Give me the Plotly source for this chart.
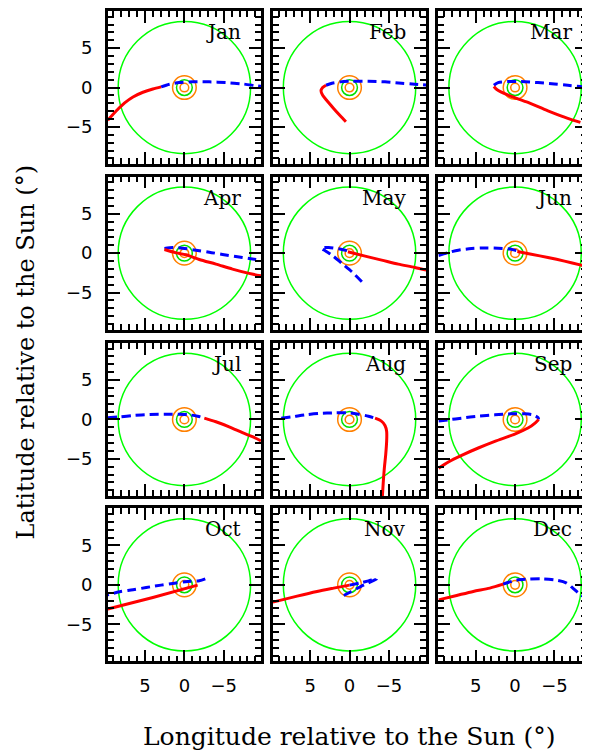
import plotly.graph_objects as go

# page has an 8px body margin; figure is sized so that it fills the 590x751 window
OFF = 8
FW, FH = 590 - OFF, 751 - OFF

months = ["Jan", "Feb", "Mar", "Apr", "May", "Jun",
          "Jul", "Aug", "Sep", "Oct", "Nov", "Dec"]

# --- data (degrees, longitude / latitude relative to the Sun) ---
jan_red_lon = [9.72, 8.63, 7.58, 6.52, 5.26, 4.0, 2.95]
jan_red_lat = [-4.15, -2.95, -1.95, -1.2, -0.6, -0.18, 0.08]
jan_blue_lon = [2.95, 1.89, 0.63, -1.05, -3.16, -5.26, -7.37, -9.26, -9.72]
jan_blue_lat = [0.08, 0.42, 0.63, 0.72, 0.72, 0.63, 0.46, 0.21, 0.17]

feb_red_lon = [0.46, 1.18, 2.02, 2.86, 3.41, 3.62, 3.41, 2.99]
feb_red_lat = [-4.34, -3.58, -2.65, -1.68, -0.97, -0.42, 0.0, 0.29]
feb_blue_lon = [2.99, 2.23, 1.18, -0.29, -2.4, -4.5, -6.6, -8.29, -9.72]
feb_blue_lat = [0.29, 0.55, 0.72, 0.8, 0.8, 0.72, 0.55, 0.42, 0.32]

mar_red_lon = [2.69, 2.36, 0.88, -1.64, -4.17, -6.69, -8.29]
mar_red_lat = [0.13, -0.21, -0.97, -1.89, -2.95, -3.91, -4.42]
mar_blue_lon = [2.69, 2.15, 0.88, -0.8, -2.9, -5.0, -6.69, -8.29, -9.3]
mar_blue_lat = [0.29, 0.63, 0.76, 0.76, 0.63, 0.46, 0.29, 0.13, 0.05]

apr_red_lon = [2.53, 1.05, -0.21, -1.89, -4.0, -6.1, -8.21, -9.72]
apr_red_lat = [0.46, 0.04, -0.21, -0.8, -1.39, -2.02, -2.57, -2.88]
apr_blue_lon = [2.53, 1.47, 0.21, -1.47, -3.16, -4.84, -6.52, -8.21, -9.72]
apr_blue_lat = [0.6, 0.72, 0.63, 0.38, 0.13, -0.17, -0.42, -0.67, -0.92]

may_red_lon = [0.21, -1.98, -4.08, -6.19, -8.29, -9.72]
may_red_lat = [0.17, -0.38, -0.88, -1.39, -1.81, -2.15]
may_blue_lon = [-1.56, -0.29, 0.97, 2.23, 3.07, 3.58, 2.65, 1.39, 0.21]
may_blue_lat = [-3.62, -2.36, -1.3, -0.25, 0.29, 0.67, 0.72, 0.55, 0.29]

jun_red_lon = [-0.29, -2.06, -4.17, -6.27, -8.38, -9.4]
jun_red_lat = [0.21, -0.13, -0.55, -1.01, -1.52, -1.77]
jun_blue_lon = [9.72, 8.46, 7.2, 5.51, 3.83, 2.15, 0.88, -0.29]
jun_blue_lat = [-0.3, 0.08, 0.38, 0.59, 0.67, 0.63, 0.55, 0.29]

jul_red_lon = [-2.53, -4.0, -5.68, -7.37, -8.63, -9.72]
jul_red_lat = [0.17, -0.29, -0.93, -1.68, -2.19, -2.71]
jul_blue_lon = [9.72, 8.21, 6.52, 4.42, 2.31, 0.63, -0.63, -1.68, -2.53]
jul_blue_lat = [0.21, 0.34, 0.5, 0.63, 0.67, 0.67, 0.59, 0.42, 0.17]

aug_red_lon = [-3.24, -4.0, -4.5, -4.71, -4.71, -4.59, -4.42, -4.29, -4.17]
aug_red_lat = [0.17, -0.17, -0.76, -1.52, -2.78, -4.46, -6.14, -7.83, -9.72]
aug_blue_lon = [8.67, 7.28, 5.6, 3.91, 1.81, 0.13, -1.14, -2.4, -3.24]
aug_blue_lat = [0.17, 0.34, 0.59, 0.76, 0.84, 0.84, 0.67, 0.42, 0.17]

sep_red_lon = [-2.99, -2.57, -1.64, 0.04, 2.57, 4.67, 6.78, 8.46, 9.72]
sep_red_lat = [0.0, -0.42, -1.09, -1.85, -2.78, -3.62, -4.55, -5.39, -6.2]
sep_blue_lon = [9.72, 8.46, 6.78, 4.67, 2.57, 0.46, -1.22, -2.27, -2.9, -2.99]
sep_blue_lat = [-0.2, -0.04, 0.17, 0.42, 0.59, 0.72, 0.72, 0.59, 0.25, 0.0]

oct_red_lon = [9.72, 4.0, -1.68]
oct_red_lat = [-3.08, -1.6, -0.04]
oct_blue_lon = [-2.65, -1.89, -0.42, 1.26, 2.95, 4.84, 6.52, 8.21, 9.72]
oct_blue_lat = [0.76, 0.51, 0.42, 0.21, -0.04, -0.34, -0.63, -0.88, -1.27]

nov_red_lon = [9.72, 6.65, 4.12, 2.02, 0.0]
nov_red_lat = [-2.2, -1.43, -0.84, -0.42, -0.04]
nov_blue_lon = [0.0, -1.35, -2.4, -3.45, -2.4, -1.35, -0.17, 0.88]
nov_blue_lat = [-0.04, 0.25, 0.5, 0.76, 0.25, -0.25, -0.88, -1.43]

dec_red_lon = [9.72, 7.41, 5.3, 3.2, 1.52]
dec_red_lat = [-1.91, -1.35, -0.84, -0.42, 0.08]
dec_blue_lon = [1.52, -0.17, -1.85, -3.54, -5.22, -6.48, -7.32, -8.16, -9.22]
dec_blue_lat = [0.08, 0.59, 0.72, 0.76, 0.59, 0.25, -0.42, -1.14, -1.77]

red_lon = [jan_red_lon, feb_red_lon, mar_red_lon, apr_red_lon, may_red_lon, jun_red_lon,
           jul_red_lon, aug_red_lon, sep_red_lon, oct_red_lon, nov_red_lon, dec_red_lon]
red_lat = [jan_red_lat, feb_red_lat, mar_red_lat, apr_red_lat, may_red_lat, jun_red_lat,
           jul_red_lat, aug_red_lat, sep_red_lat, oct_red_lat, nov_red_lat, dec_red_lat]
blue_lon = [jan_blue_lon, feb_blue_lon, mar_blue_lon, apr_blue_lon, may_blue_lon, jun_blue_lon,
            jul_blue_lon, aug_blue_lon, sep_blue_lon, oct_blue_lon, nov_blue_lon, dec_blue_lon]
blue_lat = [jan_blue_lat, feb_blue_lat, mar_blue_lat, apr_blue_lat, may_blue_lat, jun_blue_lat,
            jul_blue_lat, aug_blue_lat, sep_blue_lat, oct_blue_lat, nov_blue_lat, dec_blue_lat]

ring_radii = [8.4, 1.5, 1.0, 0.55]
ring_colors = ["#00ff00", "#ff8000", "#00e000", "#ff8000"]

tick_vals = [5, 0, -5]
tick_text = ["5", "0", "\u22125"]

# --- layout geometry (window pixels) ---
col_left = [108.3, 274.3, 440.7]
row_top = [8.0, 174.3, 341.3, 507.3]
PW, PH = 154.0, 153.7
HALF = 9.72
unit = PW / (2 * HALF)


def fx(px):
    return (px - OFF) / FW


def fy(py):
    return 1 - (py - OFF) / FH


fig = go.Figure()
shapes = []
annotations = []
layout_axes = {}

for i, m in enumerate(months):
    r, c = divmod(i, 3)
    n = i + 1
    xa = f"x{n}"
    ya = f"y{n}"
    left = col_left[c]
    right = min(590, left + PW)
    top = row_top[r]
    bottom = top + PH
    xr = [HALF, HALF - (right - left) / unit]

    fig.add_trace(go.Scatter(x=blue_lon[i], y=blue_lat[i], xaxis=xa, yaxis=ya,
                             mode="lines", line=dict(color="#0000ff", width=3, dash="9px,5px", shape="spline", smoothing=0.8),
                             showlegend=False, hoverinfo="skip"))
    fig.add_trace(go.Scatter(x=red_lon[i], y=red_lat[i], xaxis=xa, yaxis=ya,
                             mode="lines", line=dict(color="#ff0000", width=3, shape="spline", smoothing=0.8),
                             showlegend=False, hoverinfo="skip"))

    for rad, col in zip(ring_radii, ring_colors):
        shapes.append(dict(type="circle", xref=xa, yref=ya, x0=-rad, x1=rad, y0=-rad, y1=rad,
                           line=dict(color=col, width=1.5), layer="below"))

    common = dict(showline=True, linewidth=2.5, linecolor="black", mirror="ticks",
                  ticks="inside", ticklen=12, tickwidth=2, tickcolor="black",
                  tickmode="array", tickvals=tick_vals, ticktext=tick_text,
                  minor=dict(ticks="inside", ticklen=6, tickwidth=1.5, tickcolor="black", dtick=1, tick0=0),
                  showgrid=False, zeroline=False,
                  tickfont=dict(family="DejaVu Sans", size=18, color="black"))
    layout_axes[f"xaxis{n}" if n > 1 else "xaxis"] = dict(
        common, domain=[fx(left), min(1.0, fx(right))], range=xr, anchor=ya,
        showticklabels=(r == 3), ticklabelstandoff=6)
    layout_axes[f"yaxis{n}" if n > 1 else "yaxis"] = dict(
        common, domain=[fy(bottom), fy(top)], range=[-HALF, HALF], anchor=xa,
        showticklabels=(c == 0), ticklabelstandoff=9)

    annotations.append(dict(text=m, xref="paper", yref="paper",
                            x=fx(left + PW - 18), y=fy(top + 21),
                            xanchor="right", yanchor="middle", showarrow=False,
                            font=dict(family="DejaVu Serif", size=20, color="black")))

annotations.append(dict(text="Longitude relative to the Sun (\u00b0)", xref="paper", yref="paper",
                        x=fx(351), y=fy(736), xanchor="center", yanchor="middle", showarrow=False,
                        font=dict(family="DejaVu Serif", size=25, color="black")))
annotations.append(dict(text="Latitude relative to the Sun (\u00b0)", xref="paper", yref="paper",
                        x=fx(26), y=fy(350), xanchor="center", yanchor="middle", showarrow=False,
                        textangle=-90,
                        font=dict(family="DejaVu Serif", size=24, color="black")))

fig.update_layout(width=FW, height=FH, margin=dict(l=0, r=0, t=0, b=0),
                  paper_bgcolor="white", plot_bgcolor="white",
                  shapes=shapes, annotations=annotations, **layout_axes)

fig.write_html("out.html")
